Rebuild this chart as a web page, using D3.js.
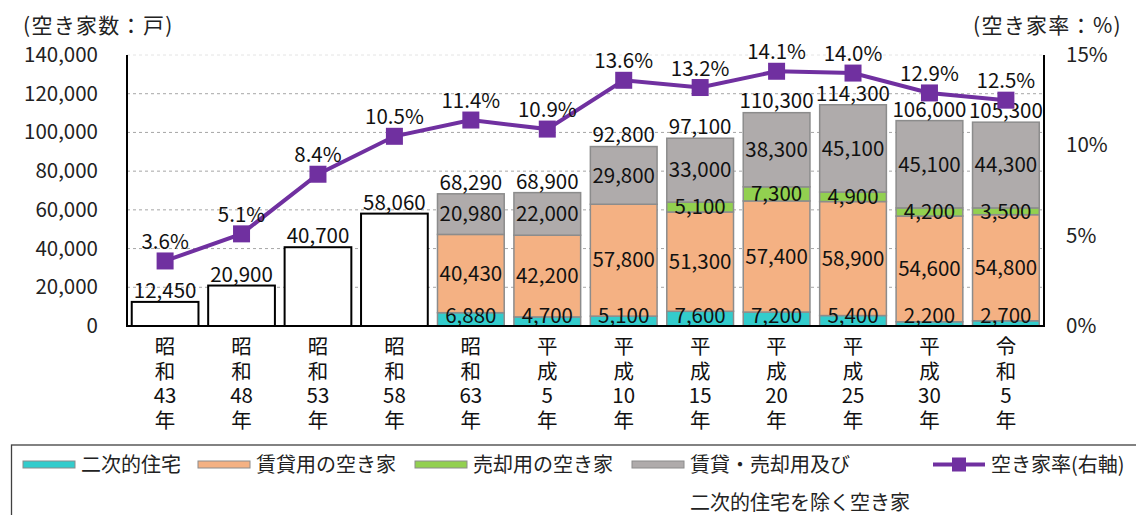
<!DOCTYPE html>
<html lang="ja">
<head>
<meta charset="utf-8">
<script src="https://cdn.jsdelivr.net/npm/d3@7/dist/d3.min.js"></script>
<style>
  html, body { margin: 0; padding: 0; background: #fff; }
  svg { display: block; font-family: "Noto Sans CJK JP", "Noto Sans", sans-serif; }
</style>
</head>
<body>
<svg id="chart" width="1136" height="515"></svg>
<script>
// 調査年
const categories = ["昭和43年", "昭和48年", "昭和53年", "昭和58年", "昭和63年", "平成5年",
  "平成10年", "平成15年", "平成20年", "平成25年", "平成30年", "令和5年"];

// 空き家数の合計（戸）
const totals = [12450, 20900, 40700, 58060, 68290, 68900, 92800, 97100, 110300, 114300, 106000, 105300];

// 内訳（昭和63年以降）
const secondaryHomes = [null, null, null, null, 6880, 4700, 5100, 7600, 7200, 5400, 2200, 2700];
const forRent = [null, null, null, null, 40430, 42200, 57800, 51300, 57400, 58900, 54600, 54800];
const forSale = [null, null, null, null, 0, 0, 0, 5100, 7300, 4900, 4200, 3500];
const otherVacant = [null, null, null, null, 20980, 22000, 29800, 33000, 38300, 45100, 45100, 44300];

// 空き家率（%）
const vacancyRate = [3.6, 5.1, 8.4, 10.5, 11.4, 10.9, 13.6, 13.2, 14.1, 14.0, 12.9, 12.5];

const leftTicks = [0, 20000, 40000, 60000, 80000, 100000, 120000, 140000];
const rightTicks = [0, 5, 10, 15];

const seriesNames = ["二次的住宅", "賃貸用の空き家", "売却用の空き家", "賃貸・売却用及び"];
const seriesNote = "二次的住宅を除く空き家";
const rateName = "空き家率(右軸)";
const leftTitle = "(空き家数：戸)";
const rightTitle = "(空き家率：%)";

const colors = ["#33CCCC", "#F4B183", "#92D050", "#AFABAB"];
const rateColor = "#7030A0";
const fontSize = 20.5;

const svg = d3.select("#chart");
const plot = { left: 127, right: 1044, top: 55, bottom: 326 };

const x = d3.scaleBand().domain(categories)
  .range([plot.left, plot.right]).paddingInner(0.127).paddingOuter(0.062);
const y = d3.scaleLinear().domain([0, 140000]).range([plot.bottom, plot.top]);
const yR = d3.scaleLinear().domain([0, 15]).range([plot.bottom, plot.top]);

const fmt = d3.format(",");

// gridlines
svg.append("g").selectAll("line").data(leftTicks.filter(d => d > 0)).join("line")
  .attr("x1", plot.left).attr("x2", plot.right)
  .attr("y1", d => y(d)).attr("y2", d => y(d))
  .attr("stroke", d => d === 140000 ? "#e4e4e4" : "#a6a6a6")
  .attr("stroke-width", 1).attr("stroke-dasharray", "3,3");

// left axis labels
const leftAxis = d3.axisLeft(y).tickValues(leftTicks).tickFormat(fmt).tickSize(0).tickPadding(0);
const gl = svg.append("g").attr("transform", `translate(${plot.left - 29},0)`).call(leftAxis);
gl.select(".domain").remove();
gl.selectAll("text").attr("font-size", fontSize).attr("fill", "#222")
  .attr("font-family", "'Noto Sans CJK JP', sans-serif");

// right axis labels
const rightAxis = d3.axisRight(yR).tickValues(rightTicks).tickFormat(d => d + "%").tickSize(0).tickPadding(0);
const gr = svg.append("g").attr("transform", `translate(${plot.right + 22},0)`).call(rightAxis);
gr.select(".domain").remove();
gr.selectAll("text").attr("font-size", fontSize).attr("fill", "#222")
  .attr("font-family", "'Noto Sans CJK JP', sans-serif");

// axis titles
svg.append("text").attr("x", 23).attr("y", 33).attr("font-size", 21).attr("letter-spacing", 1.3)
  .attr("fill", "#222").text(leftTitle);
svg.append("text").attr("x", 973).attr("y", 33).attr("font-size", 21).attr("letter-spacing", 1.3)
  .attr("fill", "#222").text(rightTitle);

// totals-only bars (before breakdown was available)
const plain = categories.map((c, i) => ({ c, i })).filter(d => secondaryHomes[d.i] === null);
svg.append("g").selectAll("rect").data(plain).join("rect")
  .attr("x", d => x(d.c)).attr("width", x.bandwidth())
  .attr("y", d => y(totals[d.i])).attr("height", d => y(0) - y(totals[d.i]))
  .attr("fill", "#fff").attr("stroke", "#000").attr("stroke-width", 2);

// stacked breakdown bars
const seriesArrays = [secondaryHomes, forRent, forSale, otherVacant];
const rows = categories.map((c, i) => ({ c, i })).filter(d => secondaryHomes[d.i] !== null);
const segments = [];
rows.forEach(r => {
  let acc = 0;
  seriesArrays.forEach((arr, k) => {
    const v = arr[r.i];
    segments.push({ c: r.c, k, v, y0: acc, y1: acc + v });
    acc += v;
  });
});

const segG = svg.append("g");
segG.selectAll("rect").data(segments.filter(s => s.v > 0)).join("rect")
  .attr("x", d => x(d.c)).attr("width", x.bandwidth())
  .attr("y", d => y(d.y1)).attr("height", d => y(d.y0) - y(d.y1))
  .attr("fill", d => colors[d.k]).attr("stroke", "#8c8c8c").attr("stroke-width", 1.5);

// segment value labels
segG.selectAll("text").data(segments.filter(s => s.v > 0)).join("text")
  .attr("x", d => x(d.c) + x.bandwidth() / 2)
  .attr("y", d => (d.k === 0 ? y(0) - 10.5 : (y(d.y0) + y(d.y1)) / 2) + 7.3)
  .attr("text-anchor", "middle").attr("font-size", fontSize).attr("fill", "#111")
  .text(d => fmt(d.v));

// axis lines
svg.append("line").attr("x1", plot.left).attr("x2", plot.left)
  .attr("y1", plot.top).attr("y2", plot.bottom + 1).attr("stroke", "#000").attr("stroke-width", 2);
svg.append("line").attr("x1", plot.right).attr("x2", plot.right)
  .attr("y1", plot.top).attr("y2", plot.bottom + 1).attr("stroke", "#000").attr("stroke-width", 2);
svg.append("line").attr("x1", plot.left - 1).attr("x2", plot.right + 1)
  .attr("y1", plot.bottom).attr("y2", plot.bottom).attr("stroke", "#000").attr("stroke-width", 2);

// total labels
svg.append("g").selectAll("text").data(categories).join("text")
  .attr("x", d => x(d) + x.bandwidth() / 2)
  .attr("y", (d, i) => y(totals[i]) - 4)
  .attr("text-anchor", "middle").attr("font-size", fontSize).attr("fill", "#111")
  .text((d, i) => fmt(totals[i]));

// vacancy rate line
const line = d3.line().x((d, i) => x(categories[i]) + x.bandwidth() / 2).y(d => yR(d));
svg.append("path").datum(vacancyRate).attr("d", line)
  .attr("fill", "none").attr("stroke", rateColor).attr("stroke-width", 4);
const ms = 17;
svg.append("g").selectAll("rect").data(vacancyRate).join("rect")
  .attr("x", (d, i) => x(categories[i]) + x.bandwidth() / 2 - ms / 2)
  .attr("y", d => yR(d) - ms / 2).attr("width", ms).attr("height", ms)
  .attr("fill", rateColor);
svg.append("g").selectAll("text").data(vacancyRate).join("text")
  .attr("x", (d, i) => x(categories[i]) + x.bandwidth() / 2)
  .attr("y", d => yR(d) - 12)
  .attr("text-anchor", "middle").attr("font-size", fontSize).attr("fill", "#111")
  .text(d => d.toFixed(1) + "%");

// vertical category labels: era, year number and 年 stacked one per line
const xl = svg.append("g");
categories.forEach(c => {
  const m = c.match(/^(.)(.)(\d+)(年)$/);
  const parts = m ? m.slice(1) : [c];
  const t = xl.append("text").attr("text-anchor", "middle").attr("font-size", fontSize).attr("fill", "#111");
  parts.forEach((p, j) => {
    t.append("tspan").attr("x", x(c) + x.bandwidth() / 2).attr("y", 354 + j * 24.5).text(p);
  });
});

// legend
const lg = svg.append("g");
lg.append("rect").attr("x", 11.5).attr("y", 445).attr("width", 1140).attr("height", 100)
  .attr("fill", "none").attr("stroke", "#404040").attr("stroke-width", 1.3);
const legendX = [23, 198, 415, 632];
seriesNames.forEach((name, k) => {
  lg.append("rect").attr("x", legendX[k]).attr("y", 461).attr("width", 52).attr("height", 7)
    .attr("fill", colors[k]).attr("stroke", "#8c8c8c").attr("stroke-width", 1);
  lg.append("text").attr("x", legendX[k] + 58).attr("y", 472)
    .attr("font-size", 20).attr("fill", "#222").text(name);
});
lg.append("text").attr("x", 690).attr("y", 510).attr("font-size", 20).attr("fill", "#222").text(seriesNote);
lg.append("line").attr("x1", 933).attr("x2", 985).attr("y1", 464.5).attr("y2", 464.5)
  .attr("stroke", rateColor).attr("stroke-width", 4);
lg.append("rect").attr("x", 952).attr("y", 457.5).attr("width", 14).attr("height", 14).attr("fill", rateColor);
lg.append("text").attr("x", 991).attr("y", 472).attr("font-size", 20).attr("fill", "#222").text(rateName);
</script>
</body>
</html>
